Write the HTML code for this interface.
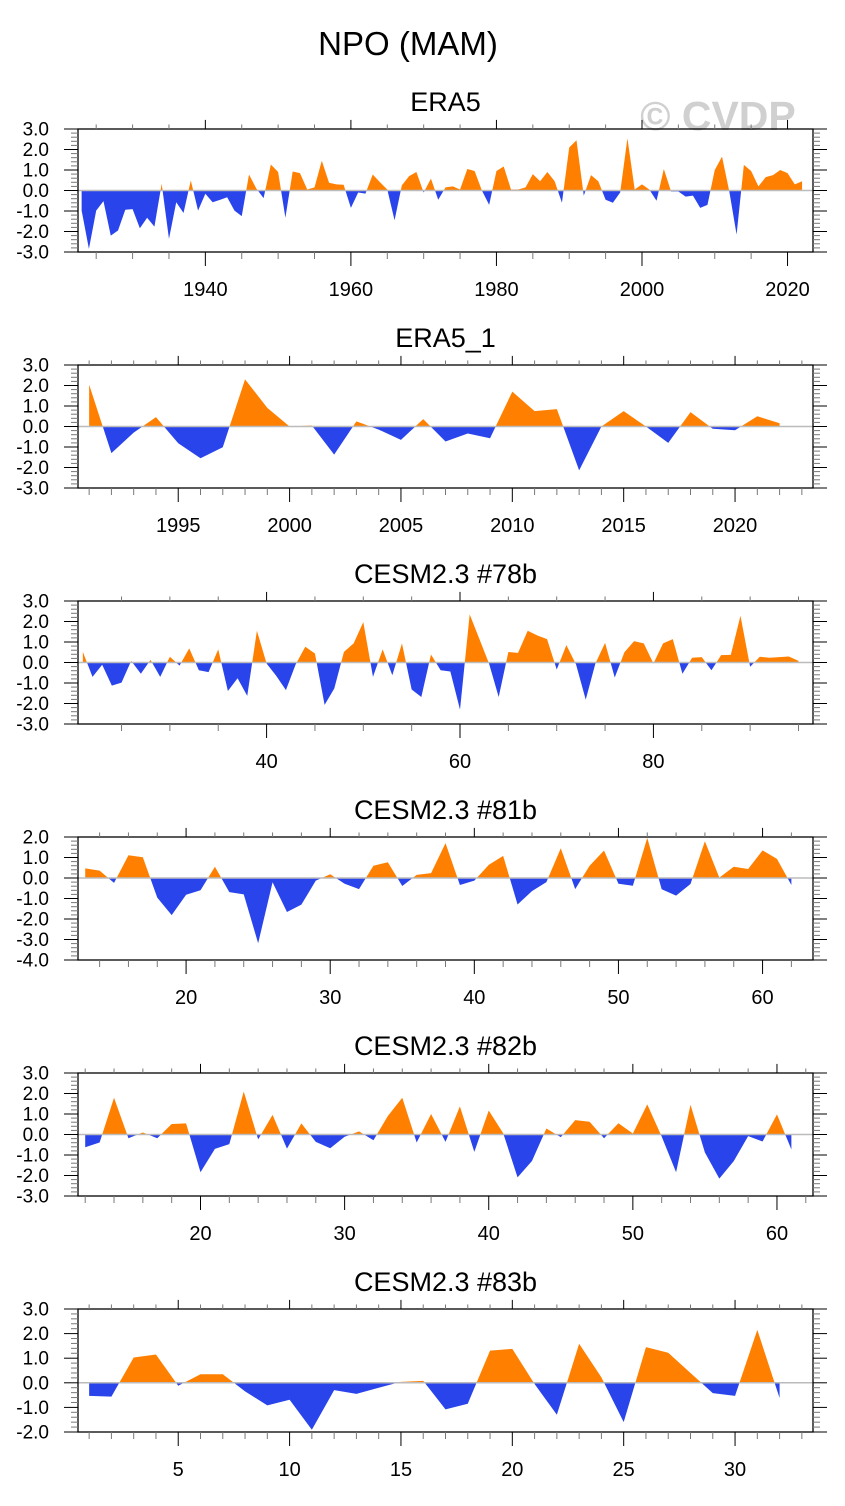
<!DOCTYPE html>
<html><head><meta charset="utf-8"><style>
html,body{margin:0;padding:0;background:#fff;}
svg{display:block;font-family:"Liberation Sans",Arial,sans-serif;}
</style></head><body>
<svg id="chart" width="845" height="1506" viewBox="0 0 845 1506" xmlns="http://www.w3.org/2000/svg">
<text x="408" y="55" font-size="33" text-anchor="middle" fill="#000">NPO (MAM)</text>
<text x="718" y="130" font-size="41" font-weight="bold" text-anchor="middle" fill="#d0d0d0">© CVDP</text>
</svg>
<script>
// ---- Data arrays ----
const era5Values = [-0.98,-2.85,-0.98,-0.52,-2.2,-1.95,-0.94,-0.91,-1.84,-1.33,-1.76,0.33,-2.36,-0.57,-1.1,0.49,-0.98,-0.16,-0.57,-0.46,-0.33,-0.98,-1.25,
0.78,0.1,-0.37,1.27,0.9,-1.33,0.93,0.85,0.05,0.15,1.45,0.38,0.3,0.28,-0.85,-0.1,-0.15,0.78,0.4,0.05,-1.45,0.25,0.7,0.9,-0.1,0.58,-0.45,0.15,0.2,
0.05,1.05,0.95,0.0,-0.7,0.95,1.17,0.05,0.05,0.15,0.8,0.45,0.9,0.45,-0.6,2.1,2.45,-0.25,0.75,0.45,-0.45,-0.6,-0.1,2.55,0.05,0.3,0.05,-0.5,1.05,-0.05,-0.05,-0.3,-0.25,-0.85,-0.7,1.0,1.65,-0.05,-2.15,1.25,0.95,0.2,0.65,0.75,1.0,0.85,0.3,0.45];
const era5Start = 1923;
const era5_1Values = [2.04,-1.3,-0.3,0.46,-0.82,-1.55,-1.01,2.3,0.91,0.0,0.05,-1.37,0.25,-0.15,-0.65,0.36,-0.73,-0.34,-0.57,1.7,0.75,0.85,-2.14,0.0,0.75,0.0,-0.8,0.7,-0.11,-0.18,0.5,0.16];
const era5_1Start = 1991;
const c78Values = [0.52,-0.7,-0.11,-1.13,-0.98,0.08,-0.55,0.13,-0.7,0.28,-0.15,0.69,-0.38,-0.47,0.64,-1.39,-0.77,-1.63,1.55,-0.05,-0.65,-1.35,-0.1,0.77,0.44,-2.07,-1.27,0.52,0.93,1.97,-0.7,0.64,-0.62,0.93,-1.32,-1.68,0.39,-0.38,-0.44,-2.3,
2.35,1.15,-0.05,-1.68,0.51,0.47,1.55,1.32,1.14,-0.34,0.85,-0.1,-1.81,-0.05,0.96,-0.73,0.5,1.04,0.93,-0.05,0.93,1.14,-0.55,0.23,0.26,-0.38,0.36,0.37,2.28,-0.21,0.28,0.23,0.26,0.29,0.08];
const c78Start = 21;
const c81Values = [0.47,0.36,-0.24,1.11,1.01,-0.96,-1.81,-0.82,-0.6,0.55,-0.69,-0.8,-3.18,-0.21,-1.66,-1.3,-0.13,0.18,-0.28,-0.54,0.6,0.77,-0.39,0.15,0.24,1.7,-0.34,-0.13,0.64,1.08,-1.29,-0.64,-0.2,1.45,-0.54,0.6,1.34,-0.28,-0.38,1.96,-0.55,-0.86,-0.29,1.79,0.02,0.55,0.44,1.35,0.93,-0.34];
const c81Start = 13;
const c82Values = [-0.62,-0.39,1.79,-0.18,0.1,-0.18,0.51,0.54,-1.84,-0.7,-0.47,2.1,-0.24,0.96,-0.69,0.54,-0.36,-0.67,-0.11,0.15,-0.28,0.9,1.79,-0.39,1.0,-0.36,1.37,-0.85,1.17,0.07,-2.09,-1.29,0.29,-0.13,0.7,0.62,-0.18,0.55,0.05,1.47,-0.1,-1.84,1.45,-0.88,-2.15,-1.3,-0.08,-0.34,0.98,-0.73];
const c82Start = 12;
const c83Values = [-0.53,-0.56,1.03,1.15,-0.12,0.35,0.35,-0.35,-0.92,-0.69,-1.91,-0.3,-0.45,-0.2,0.04,0.08,-1.08,-0.85,1.31,1.38,-0.05,-1.3,1.59,0.22,-1.6,1.45,1.22,0.4,-0.42,-0.53,2.15,-0.62];
const c83Start = 1;
const panelTitles = ["ERA5","ERA5_1","CESM2.3 #78b","CESM2.3 #81b","CESM2.3 #82b","CESM2.3 #83b"];
const yTickRanges = [[-3,3],[-3,3],[-3,3],[-4,2],[-3,3],[-2,3]];

const NS="http://www.w3.org/2000/svg";
const svg=document.getElementById('chart');
function mk(tag,attrs,parent){const e=document.createElementNS(NS,tag);for(const k in attrs)e.setAttribute(k,attrs[k]);(parent||svg).appendChild(e);return e;}

const panels=[
 {vals:era5Values,start:era5Start,major:20,minor:5,labels:[1940,1960,1980,2000,2020]},
 {vals:era5_1Values,start:era5_1Start,major:5,minor:1,labels:[1995,2000,2005,2010,2015,2020]},
 {vals:c78Values,start:c78Start,major:20,minor:5,labels:[40,60,80]},
 {vals:c81Values,start:c81Start,major:10,minor:2,labels:[20,30,40,50,60]},
 {vals:c82Values,start:c82Start,major:10,minor:2,labels:[20,30,40,50,60]},
 {vals:c83Values,start:c83Start,major:5,minor:1,labels:[5,10,15,20,25,30]}
];
const L=78,R=813,H=123;
panels.forEach((p,i)=>{
  const top=129+236*i, bot=top+H;
  const n=p.vals.length;
  const xmin=p.start-0.5, xmax=p.start+n-1+1.5;
  const [ymin,ymax]=yTickRanges[i];
  const xs=v=>L+(v-xmin)/(xmax-xmin)*(R-L);
  const ys=v=>bot-(v-ymin)/(ymax-ymin)*H;
  const g=mk('g',{});
  
  
  const t=mk('text',{x:(L+R)/2,y:top-18,'font-size':27,'text-anchor':'middle',fill:'#000'},g);
  
  
  t.textContent=panelTitles[i];
  const y0=ys(0);
  let d='M'+xs(p.start)+','+y0;
  p.vals.forEach((v,k)=>{d+=' L'+xs(p.start+k).toFixed(2)+','+ys(v).toFixed(2);});
  d+=' L'+xs(p.start+n-1)+','+y0+' Z';
  const cpA=mk('clipPath',{id:'ca'+i},g); mk('rect',{x:L,y:top,width:R-L,height:y0-top},cpA);
  const cpB=mk('clipPath',{id:'cb'+i},g); mk('rect',{x:L,y:y0,width:R-L,height:bot-y0},cpB);
  const pa=mk('path',{d:d,fill:'#ff8000','clip-path':'url(#ca'+i+')'},g);
  
  
  const pb=mk('path',{d:d,fill:'#2a44ec','clip-path':'url(#cb'+i+')'},g);
  
  
  const zl=mk('line',{x1:L,x2:R,y1:y0,y2:y0,stroke:'#bbb','stroke-width':1.5},g);
  
  
  const fr=mk('rect',{x:L,y:top,width:R-L,height:H,fill:'none',stroke:'#000','stroke-width':1.3},g);
  
  
  const firstMinor=Math.ceil(xmin/p.minor)*p.minor;
  for(let v=firstMinor; v<=xmax+1e-9; v+=p.minor){
    const x=xs(v); const maj=Math.abs(v/p.major-Math.round(v/p.major))<1e-9; const len=maj?14:7;
    mk('line',{x1:x,x2:x,y1:bot,y2:bot+len,stroke:maj?'#000':'#777','stroke-width':1},g);
    mk('line',{x1:x,x2:x,y1:top,y2:top-len*0.65,stroke:maj?'#000':'#777','stroke-width':1},g);
  }
  p.labels.forEach(v=>{
    const tl=mk('text',{x:xs(v),y:bot+44,'font-size':20,'text-anchor':'middle',fill:'#000'},g);
    
    
    tl.textContent=String(v);
  });
  for(let k=Math.round(ymin*5); k<=Math.round(ymax*5); k++){
    const v=k/5, y=ys(v), maj=k%5===0, len=maj?14:7;
    mk('line',{x1:L,x2:L-len,y1:y,y2:y,stroke:maj?'#000':'#777','stroke-width':1},g);
    mk('line',{x1:R,x2:R+len,y1:y,y2:y,stroke:maj?'#000':'#777','stroke-width':1},g);
    if(maj){
      const yl=mk('text',{x:49,y:y+6.5,'font-size':19,'text-anchor':'end',fill:'#000'},g);
      
      
      yl.textContent=v.toFixed(1);
    }
  }
});
</script>
</body></html>
